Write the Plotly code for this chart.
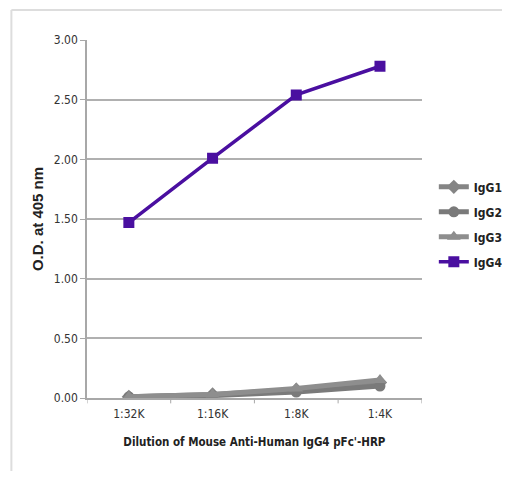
import plotly.graph_objects as go

categories = ["1:32K", "1:16K", "1:8K", "1:4K"]
igg1 = [0.01, 0.03, 0.07, 0.13]
igg2 = [0.01, 0.02, 0.05, 0.10]
igg3 = [0.01, 0.03, 0.08, 0.15]
igg4 = [1.47, 2.01, 2.54, 2.78]
y_ticks = [0, 0.5, 1.0, 1.5, 2.0, 2.5, 3.0]

series = [
    ("IgG1", igg1, "#858585", "diamond", 11, 5),
    ("IgG2", igg2, "#7a7a7a", "circle", 11, 5),
    ("IgG3", igg3, "#8e8e8e", "triangle-up", 12, 5),
    ("IgG4", igg4, "#4a0fa0", "square", 11, 3.5),
]

COND = "DejaVu Sans Condensed, Liberation Sans Narrow, Liberation Sans, sans-serif"

fig = go.Figure()
xs = list(range(len(categories)))
for name, vals, col, sym, sz, lw in series:
    fig.add_trace(go.Scatter(
        x=xs, y=vals, name="<b>%s</b>" % name, mode="lines+markers", legendgroup=name,
        line=dict(color=col, width=lw),
        marker=dict(symbol=sym, size=sz, color=col),
    ))

border = dict(color="#dddddd", width=2)
bx0, by0, by1 = -77/341, -80/358, 1 + 30/358

fig.update_layout(
    width=494, height=463,
    margin=dict(l=79, r=74, t=32, b=73),
    paper_bgcolor="white", plot_bgcolor="white",
    font=dict(family=COND, color="#222222", size=12),
    showlegend=True,
    legend=dict(x=0.862, y=0.485, xref="container", yref="paper",
                xanchor="left", yanchor="middle",
                font=dict(size=12, family=COND, color="#222222"),
                traceorder="grouped", tracegroupgap=6, itemwidth=30,
                bgcolor="rgba(0,0,0,0)"),
    xaxis=dict(
        range=[-0.5, 3.5], tickmode="array", tickvals=xs, ticktext=categories,
        showgrid=False, showline=True, linecolor="#a8a8a8", linewidth=1.5,
        ticks="", zeroline=False, ticklabelstandoff=4,
        tickfont=dict(size=12, color="#333333"),
        title=dict(text="<b>Dilution of Mouse Anti-Human IgG4 pFc'-HRP</b>",
                   font=dict(size=11.5, family=COND, color="#222222"),
                   standoff=18),
    ),
    yaxis=dict(
        range=[0, 3.0], tickmode="array", tickvals=y_ticks,
        ticktext=["%.2f" % v for v in y_ticks],
        showgrid=True, gridcolor="#b0b0b0", gridwidth=1.5,
        showline=True, linecolor="#a8a8a8", linewidth=1.5,
        ticks="outside", ticklen=5, tickcolor="#a8a8a8", zeroline=False,
        tickfont=dict(size=12, color="#333333"),
        title=dict(text="<b>O.D. at 405 nm</b>",
                   font=dict(size=15, family="Liberation Sans, sans-serif", color="#222222"),
                   standoff=7),
    ),
    shapes=[
        dict(type="line", xref="paper", yref="paper", x0=bx0, x1=bx0, y0=by0, y1=by1,
             line=border, layer="below"),
        dict(type="line", xref="paper", yref="paper", x0=bx0, x1=1.6, y0=by1, y1=by1,
             line=border, layer="below"),
    ],
)

for b in [-0.5, 0.5, 1.5, 2.5, 3.5]:
    fig.add_shape(type="line", xref="x", yref="paper", x0=b, x1=b, y0=0, y1=-0.015,
                  line=dict(color="#a8a8a8", width=1))

fig.write_html("out.html")
